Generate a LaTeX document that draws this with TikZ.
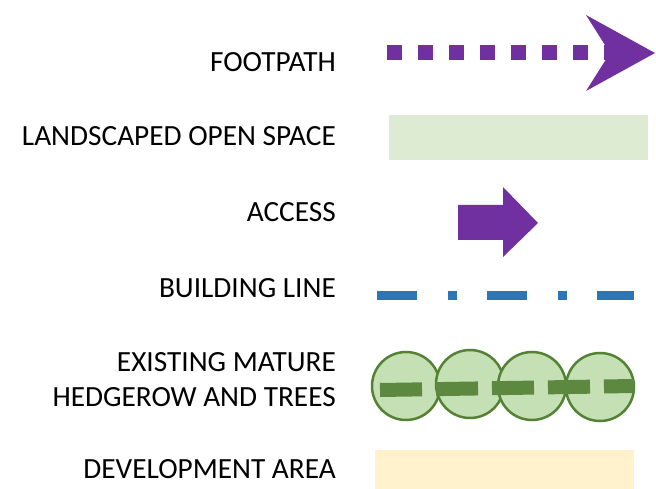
\documentclass[tikz,border=0pt]{standalone}
\usepackage{fontspec}
\setmainfont{Carlito}
\definecolor{legpurple}{HTML}{7030A0}
\definecolor{legblue}{HTML}{2E75B6}
\definecolor{leggreen}{HTML}{548235}
\definecolor{legpale}{HTML}{C5E0B4}
\definecolor{legopen}{HTML}{DEEBD3}
\definecolor{legsand}{HTML}{FFF2CC}

\begin{document}
\begin{tikzpicture}[x=1pt,y=-1pt,
    label/.style={anchor=east,font=\fontsize{29.3}{35}\selectfont,inner sep=0pt,align=right},
    tree/.style={draw=leggreen,fill=legpale,line width=2.5pt}]
            \useasboundingbox (0,0) rectangle (656,489);

            % labels
            \node[label] (footpath) at (336,62) {FOOTPATH};
            \node[label] (openspace) at (336,136) {LANDSCAPED OPEN SPACE};
            \node[label] (access) at (336,212) {ACCESS};
            \node[label] (buildline) at (336,288) {BUILDING LINE};
            \node[label] (hedgerow) at (336,380) {EXISTING MATURE\\HEDGEROW AND TREES};
            \node[label] (devarea) at (336,469) {DEVELOPMENT AREA};

            % footpath
            \fill[legpurple] (586,15) -- (655,53) -- (586,91) -- (610,53) -- cycle;
            \draw[legpurple,line width=15pt,dash pattern=on 15pt off 16pt] (387,53) -- (618,53);

            % open space
            \fill[legopen] (389,115) rectangle (648,160);

            % access
            \fill[legpurple] (458,205) -- (503,205) -- (503,187) -- (538,223)
                -- (503,257) -- (503,240) -- (458,240) -- cycle;

            % building line
            \draw[legblue,line width=9pt,dash pattern=on 40pt off 31pt on 9pt off 30pt] (377,295.5) -- (634,295.5);

            % hedgerow and trees
            \draw[tree] (406,386) circle (34);
            \draw[tree] (470,384) circle (34);
            \draw[tree] (532,386) circle (34);
            \draw[tree] (600,387) circle (34);
            \draw[leggreen!95!white,line width=14pt,dash pattern=on 42pt off 14pt] (380,390) -- (634,386);

            % development area
            \fill[legsand] (375,450) rectangle (634,489);
        \end{tikzpicture}
\end{document}
